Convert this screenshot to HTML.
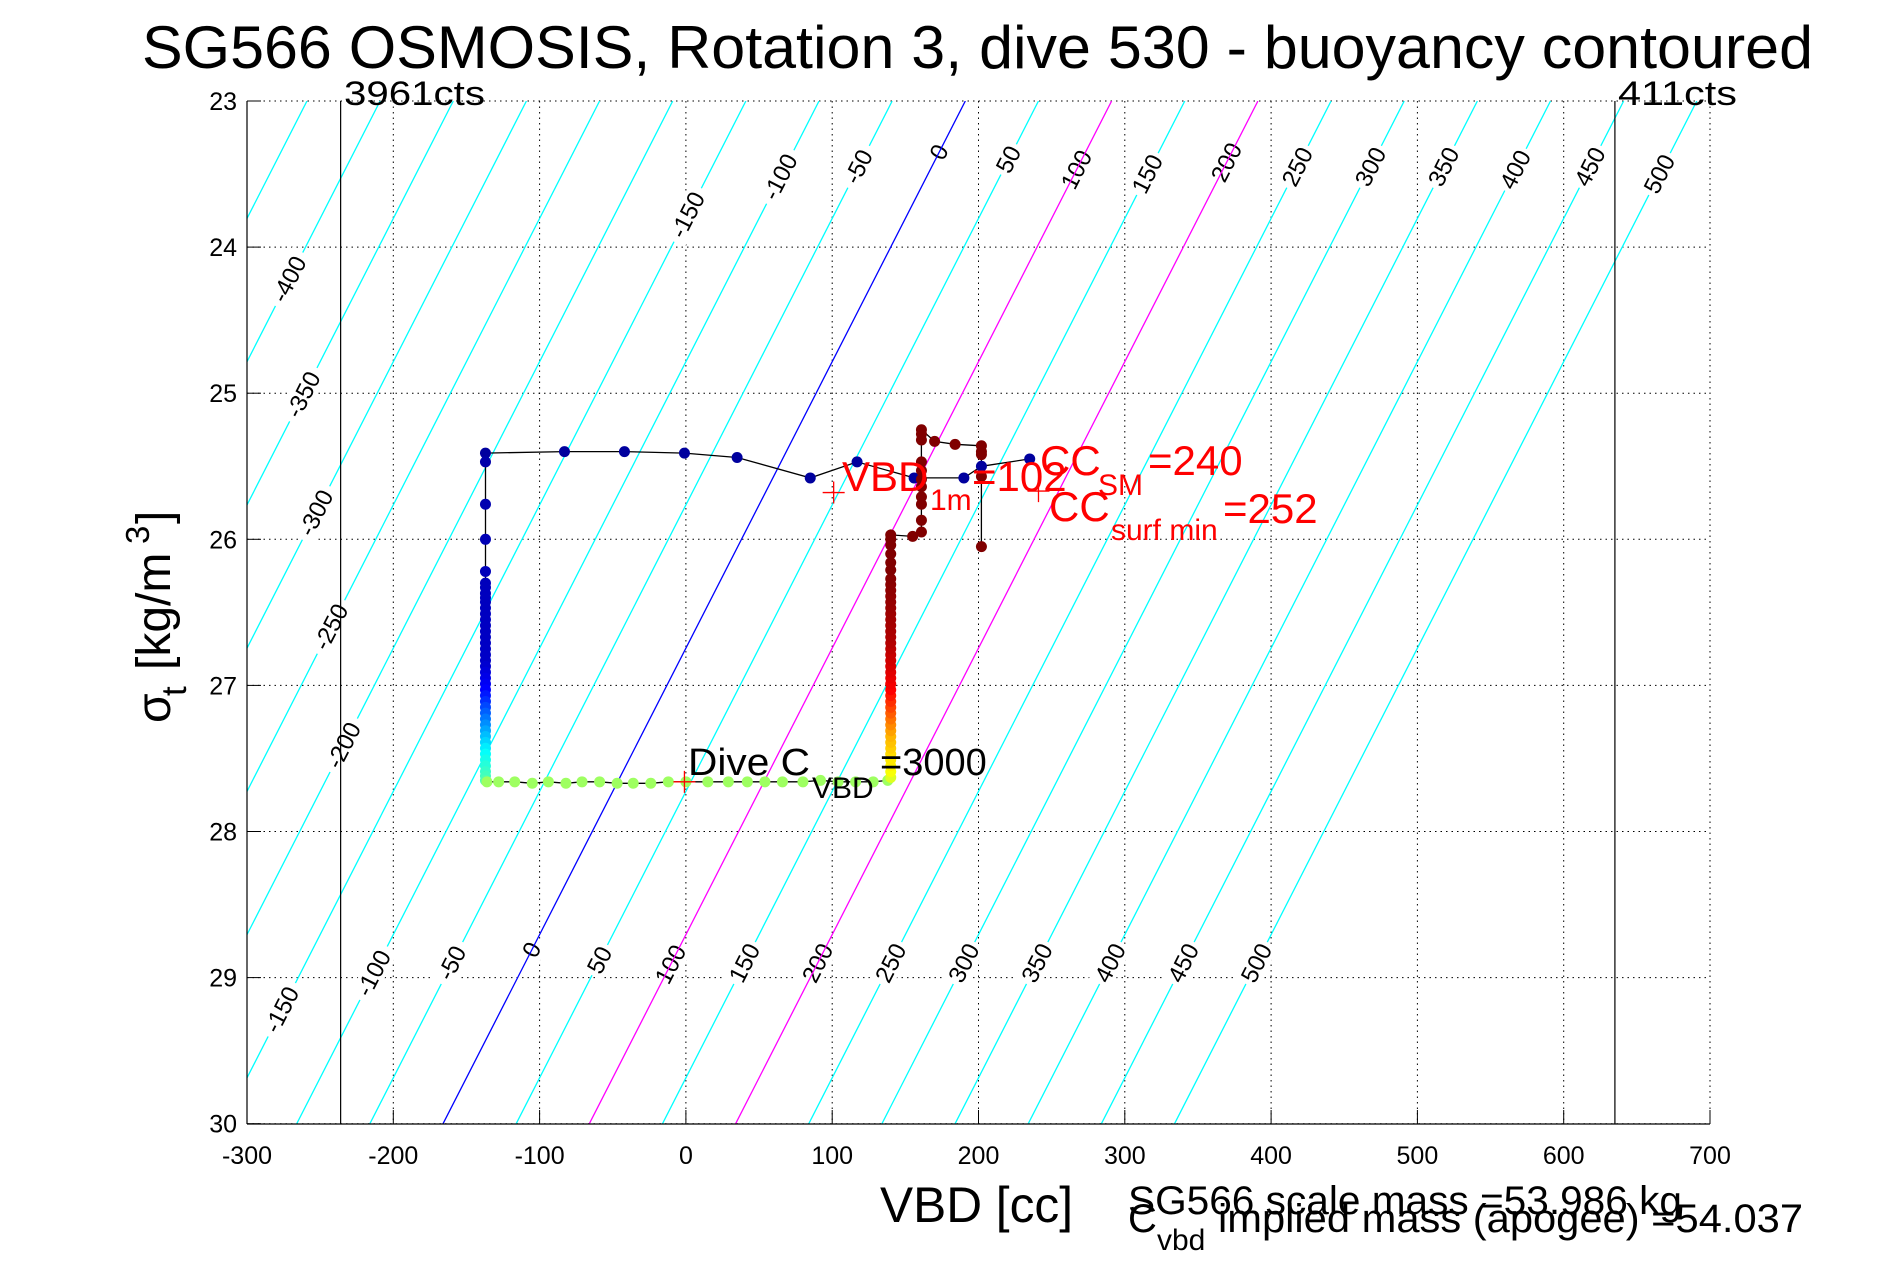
<!DOCTYPE html>
<html><head><meta charset="utf-8"><title>SG566 buoyancy contoured</title>
<style>
html,body{margin:0;padding:0;background:#fff;}
svg{display:block;font-family:"Liberation Sans",sans-serif;}
</style></head>
<body>
<svg id="chart" width="1891" height="1262" viewBox="0 0 1891 1262" xmlns="http://www.w3.org/2000/svg">
<rect width="1891" height="1262" fill="#fff"/>
<defs><clipPath id="plotclip"><rect x="247" y="101" width="1463" height="1023"/></clipPath></defs>
<text x="142" y="68" font-size="60" textLength="1671" lengthAdjust="spacingAndGlyphs">SG566 OSMOSIS, Rotation 3, dive 530 - buoyancy contoured</text>
<g id="grid"></g>
<g id="contours" clip-path="url(#plotclip)"></g>
<g id="clabels"></g>
<g id="contoursTop" clip-path="url(#plotclip)"></g>
<g id="axes"></g>
<g id="series"></g>
<text x="344" y="105" font-size="34" textLength="141" lengthAdjust="spacingAndGlyphs">3961cts</text>
<text x="1618" y="105" font-size="34" textLength="119" lengthAdjust="spacingAndGlyphs">411cts</text>
<g font-size="38">
<text x="688" y="775" textLength="122" lengthAdjust="spacingAndGlyphs">Dive C</text>
<text x="812" y="798" font-size="30">VBD</text>
<text x="880" y="775">=3000</text>
</g>
<g fill="#f00" font-size="42">
<text x="842" y="491">VBD</text>
<text x="930" y="510" font-size="30">1m</text>
<text x="972" y="491">=102</text>
</g>
<g fill="#f00" font-size="42">
<text x="1040" y="475">CC</text>
<text x="1098" y="495" font-size="30">SM</text>
<text x="1148" y="475">=240</text>
</g>
<g fill="#f00" font-size="42">
<text x="1049" y="521">CC</text>
<text x="1111" y="540" font-size="30">surf min</text>
<text x="1223" y="523">=252</text>
</g>
<text x="880" y="1222" font-size="50" textLength="193" lengthAdjust="spacingAndGlyphs">VBD [cc]</text>
<g transform="translate(170,618) rotate(-90)" font-size="48">
<text x="-105" y="0">σ</text>
<text x="-78" y="16" font-size="35">t</text>
<text x="-52" y="0">[kg/m</text>
<text x="74" y="-21" font-size="33">3</text>
<text x="94" y="0">]</text>
</g>
<text x="1128" y="1214" font-size="40" textLength="554" lengthAdjust="spacingAndGlyphs">SG566 scale mass =53.986 kg</text>
<g font-size="40">
<text x="1128" y="1232">C</text>
<text x="1157" y="1250" font-size="30">vbd</text>
<text x="1218" y="1232" textLength="585" lengthAdjust="spacingAndGlyphs">implied mass (apogee) =54.037</text>
</g>
</svg>
<script>
// ---- data ----
const xTicks = [-300,-200,-100,0,100,200,300,400,500,600,700];
const yTicks = [23,24,25,26,27,28,29,30];
const contourValues = [-450,-400,-350,-300,-250,-200,-150,-100,-50,0,50,100,150,200,250,300,350,400,450,500];
const labelValues = [-400,-350,-300,-250,-200,-150,-100,-50,0,50,100,150,200,250,300,350,400,450,500,
                     -150,-100,-50,0,50,100,150,200,250,300,350,400,450,500];
const labelSigma  = [24.22,25.01,25.82,26.6,27.41,23.78,23.52,23.45,23.35,23.4,23.47,23.5,23.42,23.45,23.45,23.45,23.47,23.45,23.5,
                     29.22,28.97,28.9,28.81,28.88,28.91,28.9,28.9,28.9,28.9,28.9,28.9,28.9,28.9];
const countLines = [-236,635];
// surface/start path (VBD, sigma)
const startVbd = [235,202,190,156,117,85,35,-1,-42,-83,-137];
const startSig = [25.45,25.5,25.58,25.58,25.47,25.58,25.44,25.41,25.40,25.40,25.41];
// descent column
const descVbd = -137;
const descSig = [25.47,25.76,26.00,26.22,26.30,26.33,26.37,26.40,26.43,26.47,26.51,26.55,26.59,26.63,26.67,26.71,26.75,26.79,26.83,26.87,26.91,26.95,26.99,27.03,27.07,27.11,27.15,27.19,27.23,27.27,27.31,27.35,27.39,27.43,27.47,27.51,27.55,27.59,27.62,27.65];
// bottom (apogee) row
const apoVbd = [-136,-128,-117,-105,-94,-82,-71,-59,-47,-36,-24,-12,0,15,29,42,54,66,80,92,104,116,128,138];
const apoSig = [27.66,27.66,27.66,27.67,27.66,27.67,27.66,27.66,27.67,27.67,27.67,27.66,27.66,27.66,27.66,27.66,27.66,27.66,27.66,27.65,27.66,27.66,27.66,27.65];
// ascent column
const ascVbd = 140;
const ascSig = [27.63,27.59,27.55,27.51,27.47,27.43,27.39,27.35,27.31,27.27,27.23,27.19,27.15,27.11,27.07,27.03,26.99,26.95,26.91,26.87,26.83,26.79,26.75,26.71,26.67,26.63,26.59,26.55,26.51,26.47,26.43,26.39,26.35,26.31,26.27,26.21,26.16,26.10,26.04,26.00,25.97];
// surface cluster after ascent
const endVbd = [155,161,161,161,161,161,161,161,161,161,161,161,170,184,202,202,202,202,202];
const endSig = [25.98,25.95,25.87,25.76,25.71,25.64,25.59,25.53,25.47,25.32,25.28,25.25,25.33,25.35,25.36,25.40,25.42,25.57,26.05];
const crossVbd = [-1,101,241];
const crossSig = [27.66,25.68,25.67];

// ---- axes ----
const X = v => 247 + (v + 300) * 1.463;
const Y = s => 101 + (s - 23) * 146.1;
const lineX = (b, s) => -166 + b + 51 * (30 - s);
const NS = 'http://www.w3.org/2000/svg';
function mk(tag, parent, attrs) {
  const e = document.createElementNS(NS, tag);
  for (const k in attrs) e.setAttribute(k, attrs[k]);
  parent.appendChild(e);
  return e;
}
function jet(t) {
  const c = v => Math.round(255 * Math.max(0, Math.min(1, v)));
  return `rgb(${c(1.5 - Math.abs(4 * t - 3))},${c(1.5 - Math.abs(4 * t - 2))},${c(1.5 - Math.abs(4 * t - 1))})`;
}
const grid = document.getElementById('grid');
const axes = document.getElementById('axes');
xTicks.forEach(v => {
  const g = mk('line', grid, {x1: X(v), x2: X(v), y1: 101, y2: 1124, stroke: '#000', 'stroke-width': 1, 'stroke-dasharray': '1.5 4'});
  
  
  const t = mk('line', axes, {x1: X(v), x2: X(v), y1: 1124, y2: 1110, stroke: '#000', 'stroke-width': 1});
  
  
  const l = mk('text', axes, {x: X(v), y: 1164, 'font-size': 25, 'text-anchor': 'middle'});
  l.textContent = v;
  
  
});
yTicks.forEach(s => {
  const g = mk('line', grid, {x1: 247, x2: 1710, y1: Y(s), y2: Y(s), stroke: '#000', 'stroke-width': 1, 'stroke-dasharray': '1.5 4'});
  
  
  const t = mk('line', axes, {x1: 247, x2: 261, y1: Y(s), y2: Y(s), stroke: '#000', 'stroke-width': 1});
  
  
  const l = mk('text', axes, {x: 237, y: Y(s) + 9, 'font-size': 25, 'text-anchor': 'end'});
  l.textContent = s;
  
  
});
const ax1 = mk('line', axes, {x1: 247, x2: 247, y1: 101, y2: 1124, stroke: '#000', 'stroke-width': 1.2});


const ax2 = mk('line', axes, {x1: 247, x2: 1710, y1: 1124, y2: 1124, stroke: '#000', 'stroke-width': 1.2});


countLines.forEach(v => {
  const l = mk('line', axes, {x1: X(v), x2: X(v), y1: 101, y2: 1124, stroke: '#000', 'stroke-width': 1.2});
  
  
});

// ---- contours ----
const cg = document.getElementById('contours');
const cgTop = document.getElementById('contoursTop');
contourValues.forEach(b => {
  const special = (b === 0 || b === 100 || b === 200);
  const col = b === 0 ? '#0000ff' : (special ? '#ff00ff' : '#00ffff');
  const l = mk('line', special ? cgTop : cg, {x1: X(lineX(b, 23)), y1: Y(23), x2: X(lineX(b, 30)), y2: Y(30), stroke: col, 'stroke-width': 1.3});
  
  
});
const lg = document.getElementById('clabels');
labelValues.forEach((b, i) => {
  const s = labelSigma[i];
  const cx = X(lineX(b, s)), cy = Y(s);
  const g = mk('g', lg, {transform: `translate(${cx},${cy}) rotate(-62.9)`});
  
  
  const w = String(b).length * 13 + 8;
  mk('rect', g, {x: -w / 2, y: -12, width: w, height: 24, fill: '#fff'});
  const t = mk('text', g, {x: 0, y: 8, 'font-size': 24, 'text-anchor': 'middle'});
  t.textContent = b;
});

// ---- series ----
const sg = document.getElementById('series');
function path(vs, ss, name) {
  const d = vs.map((v, i) => (i ? 'L' : 'M') + X(v).toFixed(1) + ' ' + Y(ss[i]).toFixed(1)).join(' ');
  const p = mk('path', sg, {d: d, fill: 'none', stroke: '#000', 'stroke-width': 1.3});
  
  
}
const descV = descSig.map(() => descVbd);
const ascV = ascSig.map(() => ascVbd);
const allV = startVbd.concat(descV, apoVbd, ascV, endVbd);
const allS = startSig.concat(descSig, apoSig, ascSig, endSig);
path(allV, allS, 'trajectory-line');
function dot(v, s, col, name) {
  const c = mk('circle', sg, {cx: X(v), cy: Y(s), r: 5.5, fill: col});
  
  
}
function descT(s) {
  if (s < 26.84) return 0.04 + (s - 25.4) / 1.44 * 0.03;
  if (s < 27.03) return 0.07 + (s - 26.84) / 0.19 * 0.055;
  if (s < 27.46) return 0.125 + (s - 27.03) / 0.43 * 0.25;
  return 0.375 + (s - 27.46) / 0.2 * 0.08;
}
function ascT(s) {
  if (s > 27.58) return 0.58 + (27.65 - s) / 0.07 * 0.045;
  if (s > 27.34) return 0.625 + (27.58 - s) / 0.24 * 0.075;
  if (s > 27.03) return 0.7 + (27.34 - s) / 0.31 * 0.175;
  if (s > 26.7) return 0.875 + (27.03 - s) / 0.33 * 0.075;
  return Math.min(1, 0.95 + (26.7 - s) / 0.5 * 0.05);
}
startVbd.forEach((v, i) => dot(v, startSig[i], jet(0.03), 'start-point'));
descSig.forEach(s => dot(descVbd, s, jet(descT(s)), 'descent-point'));
apoVbd.forEach((v, i) => dot(v, apoSig[i], jet(0.53), 'apogee-point'));
ascSig.forEach(s => dot(ascVbd, s, jet(ascT(s)), 'ascent-point'));
endVbd.forEach((v, i) => dot(v, endSig[i], jet(1), 'surface-point'));
crossVbd.forEach((v, i) => {
  const cx = X(v), cy = Y(crossSig[i]);
  const p = mk('path', sg, {d: `M${cx - 11} ${cy} H${cx + 11} M${cx} ${cy - 11} V${cy + 11}`, stroke: '#f00', 'stroke-width': 1.3});
  
  
});
</script>
</body></html>
